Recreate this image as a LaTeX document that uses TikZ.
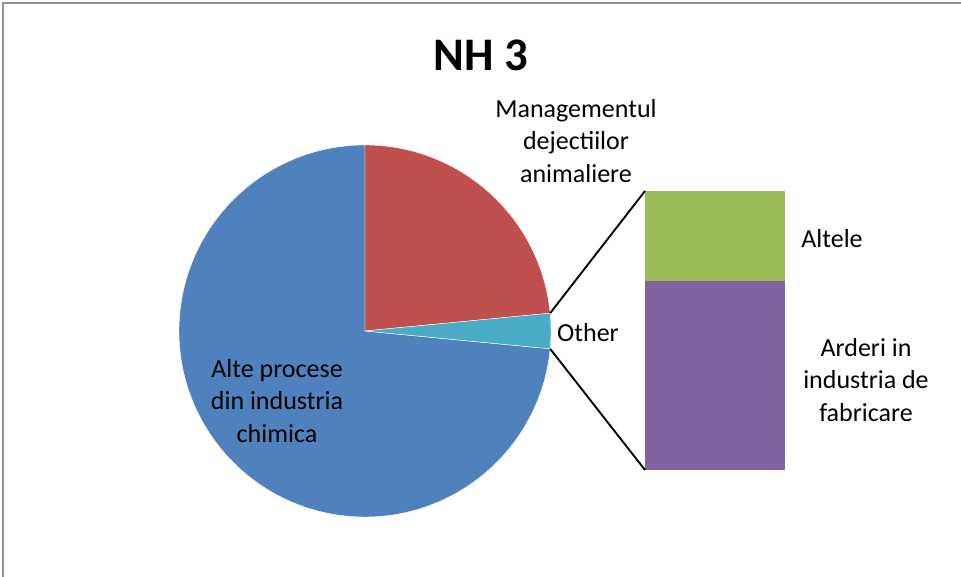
\documentclass[tikz,border=0pt]{standalone}
\usepackage{fontspec}
\setmainfont{Carlito}
\usepackage{xcolor}
\usepackage{tikz}

\definecolor{pieblue}{HTML}{4F81BD}
\definecolor{piered}{HTML}{C0504D}
\definecolor{pieteal}{HTML}{4BACC6}
\definecolor{bargreen}{HTML}{9BBB59}
\definecolor{barpurple}{HTML}{8064A2}

\begin{document}
\begin{tikzpicture}[
        x = 0.75pt, y = 0.75pt,
        every node/.style = {font=\fontsize{19.5}{24.5}\selectfont, align=center, inner sep=0pt},
        title/.style = {font=\fontsize{35}{42}\selectfont\bfseries},
        slice/.style = {draw=white, line width=0.3pt},
        leader/.style = {draw=black, line width=1.4pt},
        frame/.style = {draw=gray!85, line width=1.6pt},
      ]

      \useasboundingbox (0,0) rectangle (961,577);
      \draw[frame] (3,-20) -- (3,574) -- (990,574);

      % pie
      \coordinate (c) at (365,246);
      \fill[pieblue, slice] (c) -- ++(-5.5:186) arc[start angle=-5.5, end angle=-270, radius=186] -- cycle;
      \fill[piered, slice] (c) -- ++(90:186) arc[start angle=90, end angle=5.5, radius=186] -- cycle;
      \fill[pieteal, slice] (c) -- ++(5.5:186) arc[start angle=5.5, end angle=-5.5, radius=186] -- cycle;
      \path (c) ++(5.5:186) coordinate (tealtop);
      \path (c) ++(-5.5:186) coordinate (tealbot);

      % bar of pie
      \coordinate (bartop) at (645,386);
      \coordinate (barmid) at (645,296);
      \coordinate (barbot) at (645,107);
      \fill[bargreen] (bartop) rectangle (785,296);
      \fill[barpurple] (barmid) rectangle (785,107);

      \draw[leader] (tealtop) -- (bartop);
      \draw[leader] (tealbot) -- (barbot);

      % labels
      \node[title] (ttl) at (481,522) {NH 3};
      \node (manag) at (576,436) {Managementul\\dejectiilor\\animaliere};
      \node (other) at (588,244) {Other};
      \node (altele) at (832,338) {Altele};
      \node (arderi) at (866,197) {Arderi in\\industria de\\fabricare};
      \node (alte) at (277,176) {Alte procese\\din industria\\chimica};

    \end{tikzpicture}
\end{document}
